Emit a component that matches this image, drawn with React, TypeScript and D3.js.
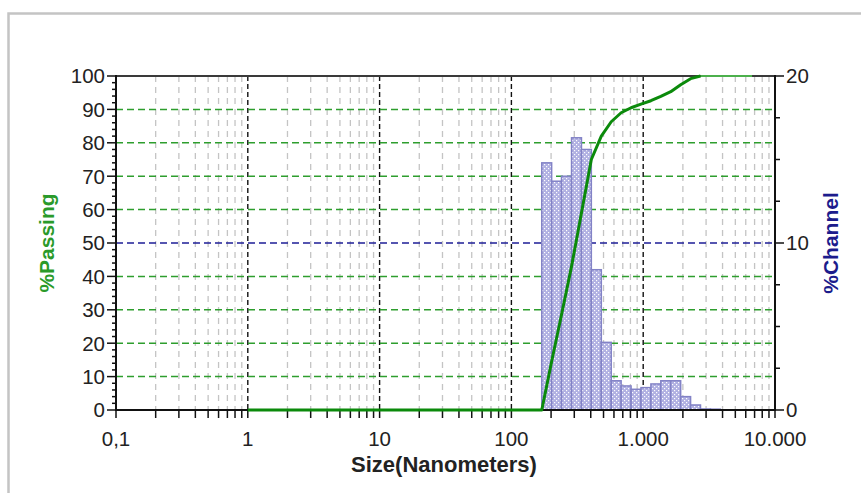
import React from "react";
import * as d3 from "d3";

// Channel bin edges (nm) and % in each channel
const channelEdges = [170, 202, 240, 286, 340, 404, 481, 572, 680, 809, 962, 1144, 1360, 1618, 1924, 2288, 2721, 3236, 3848];
const channelPct = [14.8, 13.7, 14.0, 16.3, 15.6, 8.4, 4.05, 1.75, 1.44, 1.24, 1.34, 1.56, 1.75, 1.75, 0.8, 0.3, 0.06, 0.05];

// Cumulative % passing curve
const passingSize = [1, 170, 202, 240, 286, 340, 404, 481, 572, 680, 809, 962, 1144, 1360, 1618, 1924, 2288, 2721, 6700];
const passingPct = [0, 0, 14.5, 28.5, 43, 59, 75, 82, 86.3, 89, 90.5, 91.6, 92.6, 93.9, 95.3, 97.4, 99.2, 100, 100];

const xTickValues = [0.1, 1, 10, 100, 1000, 10000];
const xTickLabels = ["0,1", "1", "10", "100", "1.000", "10.000"];
const leftTicks = [0, 10, 20, 30, 40, 50, 60, 70, 80, 90, 100];
const rightTicks = [0, 10, 20];

const W = 861;
const H = 493;
const L = 116, R = 775, T = 76, B = 410;
const FONT = "'Liberation Sans', Arial, sans-serif";
const TICK_FS = 20.5;

export default function App() {
  const x = d3.scaleLog().domain([0.1, 10000]).range([L, R]);
  const yL = d3.scaleLinear().domain([0, 100]).range([B, T]);
  const yR = d3.scaleLinear().domain([0, 20]).range([B, T]);

  const minorX = x.ticks().filter((v) => !xTickValues.includes(+v.toPrecision(6)));
  const decadeLines = xTickValues.filter((v) => v > 0.1 && v < 10000);
  const leftMinor = d3.range(0, 101, 2);
  const rightMinor = d3.range(0, 20.01, 2.5);

  const line = d3
    .line<number>()
    .x((_, i) => x(passingSize[i]))
    .y((v) => yL(v));
  const fullIdx = passingPct.indexOf(100);
  const mainPts = passingPct.slice(0, fullIdx + 1);
  const tailSize = passingSize.slice(fullIdx);
  const tailPct = passingPct.slice(fullIdx);
  const tailLine = d3
    .line<number>()
    .x((_, i) => x(tailSize[i]))
    .y((v) => yL(v));

  return (
    <svg
      width={W}
      height={H}
      style={{ position: "absolute", left: 0, top: 0, background: "#fff" }}
      fontFamily={FONT}
    >
      <defs>
        <pattern id="dots" width="4" height="4" patternUnits="userSpaceOnUse">
          <rect width="4" height="4" fill="#b0b0e2" />
          <rect x="0" y="0" width="1.2" height="1.2" fill="#ffffff" />
          <rect x="2" y="2" width="1.2" height="1.2" fill="#ffffff" />
        </pattern>
      </defs>
      <rect x={0} y={0} width={W} height={H} fill="#fff" />
      {/* outer panel border */}
      <rect x={8.5} y={13.5} width={W + 40} height={H + 40} fill="none" stroke="#c4c4c4" strokeWidth={2.5} />

      {/* vertical grid */}
      {minorX.map((v, i) => (
        <line key={"gx" + i} x1={x(v)} x2={x(v)} y1={T} y2={B} stroke="#c4c4c4" strokeWidth={1.3} strokeDasharray="6,5" />
      ))}
      {decadeLines.map((v, i) => (
        <line key={"gd" + i} x1={x(v)} x2={x(v)} y1={T} y2={B} stroke="#111" strokeWidth={1.4} strokeDasharray="5,3" />
      ))}

      {/* horizontal grid */}
      {leftTicks
        .filter((v) => v > 0 && v < 100)
        .map((v) => (
          <line
            key={"gy" + v}
            x1={L}
            x2={R}
            y1={yL(v)}
            y2={yL(v)}
            stroke={v === 50 ? "#1e1e96" : "#2e9e2e"}
            strokeWidth={1.5}
            strokeDasharray="7,4"
          />
        ))}

      {/* channel histogram */}
      {channelPct.map((v, i) => (
        <rect
          key={"b" + i}
          x={x(channelEdges[i])}
          y={yR(v)}
          width={x(channelEdges[i + 1]) - x(channelEdges[i])}
          height={B - yR(v)}
          fill="url(#dots)"
          stroke="#8282c6"
          strokeWidth={1.5}
        />
      ))}

      {/* frame */}
      <line x1={L} x2={R} y1={T} y2={T} stroke="#3a3a3a" strokeWidth={2} />
      <line x1={L} x2={L} y1={T - 1} y2={B + 1} stroke="#111" strokeWidth={2} />
      <line x1={R} x2={R} y1={T - 1} y2={B + 1} stroke="#111" strokeWidth={2} />
      <line x1={L - 1} x2={R + 1} y1={B} y2={B} stroke="#111" strokeWidth={2} />

      {/* left axis ticks */}
      {leftMinor.map((v) => (
        <line key={"lt" + v} x1={L - (v % 10 === 0 ? 9 : 4)} x2={L} y1={yL(v)} y2={yL(v)} stroke="#111" strokeWidth={1.5} />
      ))}
      {leftTicks.map((v) => (
        <text key={"ll" + v} x={L - 11} y={yL(v)} dy="0.36em" textAnchor="end" fontSize={TICK_FS} fill="#222">
          {v}
        </text>
      ))}

      {/* right axis ticks */}
      {rightMinor.map((v) => (
        <line key={"rt" + v} x1={R} x2={R + (v % 10 === 0 ? 9 : 5)} y1={yR(v)} y2={yR(v)} stroke="#111" strokeWidth={1.5} />
      ))}
      {rightTicks.map((v) => (
        <text key={"rl" + v} x={R + 11} y={yR(v)} dy="0.36em" textAnchor="start" fontSize={TICK_FS} fill="#222">
          {v}
        </text>
      ))}

      {/* bottom axis ticks */}
      {x.ticks().map((v, i) => (
        <line key={"bt" + i} x1={x(v)} x2={x(v)} y1={B} y2={B + 8} stroke="#111" strokeWidth={1.5} />
      ))}
      {xTickValues.map((v, i) => (
        <text key={"bl" + i} x={x(v)} y={446} textAnchor="middle" fontSize={TICK_FS} fill="#222">
          {xTickLabels[i]}
        </text>
      ))}

      {/* % passing curve */}
      <path d={tailLine(tailPct) ?? ""} fill="none" stroke="#4cb04c" strokeWidth={2} />
      <path d={line(mainPts) ?? ""} fill="none" stroke="#0b8a0b" strokeWidth={3} strokeLinejoin="round" />

      {/* axis titles */}
      <text x={444} y={472} textAnchor="middle" fontSize={22} fontWeight="bold" fill="#222">
        Size(Nanometers)
      </text>
      <text
        transform={`translate(54,${(T + B) / 2}) rotate(-90)`}
        textAnchor="middle"
        fontSize={21}
        fontWeight="bold"
        fill="#2a9a2a"
      >
        %Passing
      </text>
      <text
        transform={`translate(838,${(T + B) / 2}) rotate(-90)`}
        textAnchor="middle"
        fontSize={21}
        fontWeight="bold"
        fill="#1c1c8c"
      >
        %Channel
      </text>
    </svg>
  );
}
